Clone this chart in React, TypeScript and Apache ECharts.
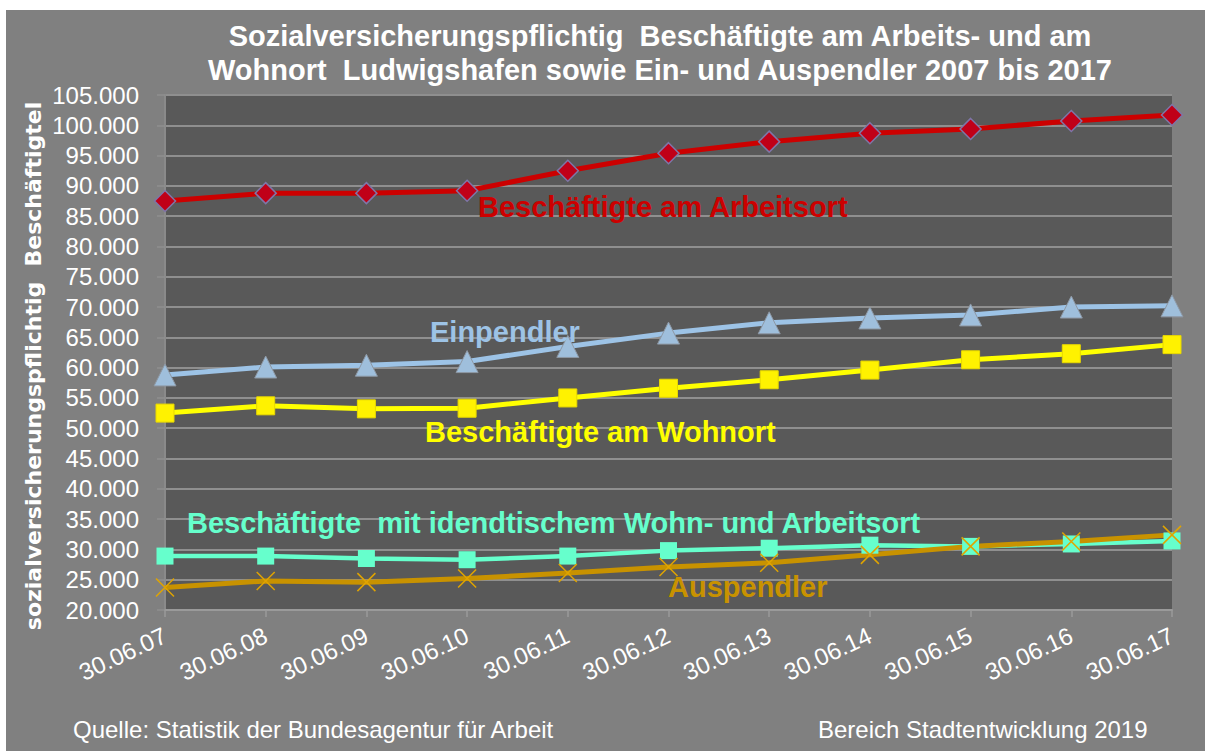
import React, { useEffect, useRef } from "react";
import * as echarts from "echarts";

const categories = ["30.06.07", "30.06.08", "30.06.09", "30.06.10", "30.06.11", "30.06.12", "30.06.13", "30.06.14", "30.06.15", "30.06.16", "30.06.17"];
const arbeitsort = [87500, 88800, 88800, 89200, 92500, 95400, 97300, 98700, 99400, 100700, 101700];
const einpendler = [58800, 60100, 60400, 61000, 63500, 65700, 67400, 68200, 68700, 70000, 70200];
const wohnort = [52500, 53700, 53200, 53300, 55000, 56600, 58000, 59600, 61300, 62300, 63800];
const identisch = [28900, 28900, 28500, 28300, 28900, 29800, 30200, 30700, 30500, 30900, 31400];
const auspendler = [23700, 24800, 24600, 25200, 26100, 27100, 27800, 29100, 30500, 31300, 32400];

const titleText = "Sozialversicherungspflichtig  Beschäftigte am Arbeits- und am\nWohnort  Ludwigshafen sowie Ein- und Auspendler 2007 bis 2017";
const yAxisName = "sozialversicherungspflichtig  Beschäftigtel";
const sourceText = "Quelle: Statistik der Bundesagentur für Arbeit";
const creditText = "Bereich Stadtentwicklung 2019";

const FONT = '"Liberation Sans", Arial, sans-serif';

const fmt = (v: number) => {
  const t = Math.floor(v / 1000);
  const r = Math.round(v % 1000);
  return `${t}.${String(r).padStart(3, "0")}`;
};

export default function App() {
  const ref = useRef<HTMLDivElement>(null);

  useEffect(() => {
    if (!ref.current) return;
    const chart = echarts.init(ref.current, null, { renderer: "svg" });

    const label = (text: string, x: number, y: number, color: string) => ({
      type: "text",
      x,
      y,
      z: 100,
      style: {
        text,
        fill: color,
        font: `bold 29px ${FONT}`,
        align: "left",
        verticalAlign: "middle",
      },
    });

    chart.setOption({
      animation: false,
      backgroundColor: "transparent",
      grid: {
        left: 165,
        right: 33,
        top: 95,
        bottom: 141,
        show: true,
        backgroundColor: "#595959",
        borderWidth: 0,
      },
      xAxis: {
        type: "category",
        data: categories,
        boundaryGap: false,
        axisLine: { show: true, lineStyle: { color: "#9a9a9a", width: 2 } },
        axisTick: { show: true, length: 7, lineStyle: { color: "#9a9a9a", width: 1.5 } },
        axisLabel: {
          interval: 0,
          rotate: 25,
          margin: 24,
          color: "#ffffff",
          fontSize: 24,
          fontFamily: FONT,
        },
        splitLine: { show: false },
      },
      yAxis: {
        type: "value",
        min: 20000,
        max: 105000,
        interval: 5000,
        axisLine: { show: true, lineStyle: { color: "#8a8a8a", width: 2 } },
        axisTick: { show: true, length: 8, lineStyle: { color: "#8f8f8f", width: 1.5 } },
        axisLabel: {
          formatter: (v: number) => fmt(v),
          color: "#ffffff",
          fontSize: 24,
          fontFamily: FONT,
          margin: 26,
        },
        splitLine: { show: true, lineStyle: { color: "#8f8f8f", width: 2 } },
      },
      graphic: [
        {
          type: "text",
          x: 660,
          y: 53,
          style: {
            text: titleText,
            fill: "#ffffff",
            font: `bold 29px ${FONT}`,
            lineHeight: 34,
            align: "center",
            verticalAlign: "middle",
          },
        },
        {
          type: "text",
          x: 33,
          y: 366,
          rotation: Math.PI / 2,
          style: {
            text: yAxisName,
            fill: "#ffffff",
            font: `bold 22px "DejaVu Sans", sans-serif`,
            align: "center",
            verticalAlign: "middle",
          },
        },
        label("Beschäftigte am Arbeitsort", 478, 207, "#CC0000"),
        label("Einpendler", 430, 332, "#9DC3E6"),
        label("Beschäftigte am Wohnort", 425, 432, "#FFFF00"),
        label("Beschäftigte  mit idendtischem Wohn- und Arbeitsort", 187, 523, "#66FFCC"),
        label("Auspendler", 668, 587, "#C89200"),
        {
          type: "text",
          x: 73,
          y: 729,
          style: { text: sourceText, fill: "#ffffff", font: `24px ${FONT}`, align: "left", verticalAlign: "middle" },
        },
        {
          type: "text",
          x: 818,
          y: 729,
          style: { text: creditText, fill: "#ffffff", font: `24px ${FONT}`, align: "left", verticalAlign: "middle" },
        },
      ],
      series: [
        {
          name: "Beschäftigte am Arbeitsort",
          type: "line",
          data: arbeitsort,
          symbol: "diamond",
          symbolSize: 21,
          lineStyle: { color: "#CC0000", width: 5 },
          itemStyle: { color: "#C00018", borderColor: "#7E76A8", borderWidth: 1.5 },
        },
        {
          name: "Einpendler",
          type: "line",
          data: einpendler,
          symbol: "triangle",
          symbolSize: 22,
          lineStyle: { color: "#9DC3E6", width: 5 },
          itemStyle: { color: "#9fbfdc", borderColor: "#8e98a4", borderWidth: 1 },
        },
        {
          name: "Beschäftigte am Wohnort",
          type: "line",
          data: wohnort,
          symbol: "rect",
          symbolSize: 18,
          lineStyle: { color: "#FFFF00", width: 5 },
          itemStyle: { color: "#FFF200", borderColor: "#E8D800", borderWidth: 1 },
        },
        {
          name: "Beschäftigte mit identischem Wohn- und Arbeitsort",
          type: "line",
          data: identisch,
          symbol: "rect",
          symbolSize: 17,
          lineStyle: { color: "#66FFCC", width: 4.5 },
          itemStyle: { color: "#66FFCC" },
        },
        {
          name: "Auspendler",
          type: "line",
          data: auspendler,
          symbol: "path://M0,0L10,10M10,0L0,10",
          symbolSize: 18,
          lineStyle: { color: "#C89200", width: 5 },
          itemStyle: { color: "#E0A400", borderColor: "#E0A400", borderWidth: 1.5 },
        },
      ],
    });

    return () => chart.dispose();
  }, []);

  return (
    <div style={{ position: "fixed", left: 0, top: 0, width: 1205, height: 751, background: "#ffffff" }}>
      <div style={{ position: "absolute", left: 6, top: 10, right: 0, bottom: 0, background: "#808080" }} />
      <div ref={ref} style={{ position: "absolute", left: 0, top: 0, width: 1205, height: 751 }} />
    </div>
  );
}
